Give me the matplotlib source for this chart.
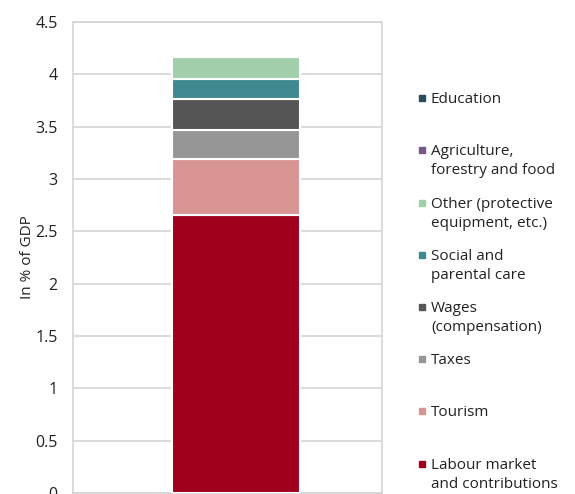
import matplotlib.pyplot as plt
from matplotlib.patches import Rectangle

plt.rcParams['font.family'] = ['Open Sans', 'DejaVu Sans']

# stacked from bottom to top
labels = ["Labour market\nand contributions", "Tourism", "Taxes", "Wages\n(compensation)",
          "Social and\nparental care", "Other (protective\nequipment, etc.)",
          "Agriculture,\nforestry and food", "Education"]
values = [2.66, 0.53, 0.28, 0.29, 0.20, 0.21, 0.005, 0.005]
colors = ["#a0001c", "#d99594", "#969696", "#555555", "#3f8a90", "#a2cfab", "#76598a", "#2c4a5e"]
yticks = [0, 0.5, 1, 1.5, 2, 2.5, 3, 3.5, 4, 4.5]
ytick_labels = ["0", "0.5", "1", "1.5", "2", "2.5", "3", "3.5", "4", "4.5"]

fig = plt.figure(figsize=(5.75, 4.94), dpi=100)
ax = fig.add_axes([73 / 575, 1 - 493 / 494, (382 - 73) / 575, (493 - 22) / 494])

bottom = 0
for v, c in zip(values, colors):
    ax.bar(0, v, width=0.414, bottom=bottom, color=c, edgecolor="white", linewidth=1.5, zorder=3)
    bottom += v

ax.set_xlim(-0.5275, 0.4725)
ax.set_ylim(0, 4.5)
ax.set_yticks(yticks)
ax.set_yticklabels(ytick_labels, fontsize=11.5, color="#222222")
ax.set_xticks([])
ax.tick_params(axis="y", length=0, pad=11)
ax.yaxis.grid(True, color="#d4d4d4", linewidth=1.2, zorder=0)
for s in ax.spines.values():
    s.set_color("#d4d4d4")
    s.set_linewidth(1.2)
ax.set_ylabel("In % of GDP", fontsize=11, color="#222222", labelpad=0)

# legend, reversed order, evenly spaced slots
slot_y = [464, 411, 359, 307, 255, 203, 150, 98]
for lab, c, y in zip(labels, colors, slot_y):
    fig.patches.append(Rectangle((419 / 575, 1 - (y + 3) / 494), 6 / 575, 6 / 494,
                                 transform=fig.transFigure, color=c))
    fig.text(431 / 575, 1 - (y - 6) / 494, lab, fontsize=11, color="#222222",
             va="top", ha="left", linespacing=1.4)

fig.savefig("out.png", dpi=100)
